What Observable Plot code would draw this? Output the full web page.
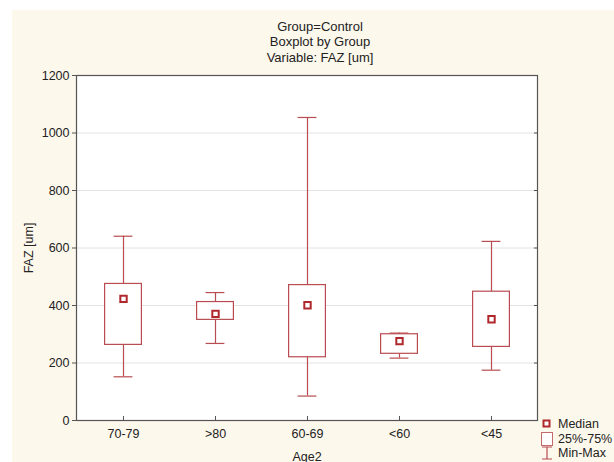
<!DOCTYPE html>
<html><head><meta charset="utf-8">
<script src="https://cdn.jsdelivr.net/npm/d3@7"></script>
<script src="https://cdn.jsdelivr.net/npm/@observablehq/plot@0.6"></script>
<style>
body{margin:0;background:#fff;font-family:"Liberation Sans",Arial,sans-serif;}
#page{position:relative;width:614px;height:462px;overflow:hidden;background:#fff;}
#cream{position:absolute;left:12px;top:10px;width:602px;height:452px;background:#fdf8ec;}
.t{position:absolute;left:12px;width:616px;text-align:center;font-size:13px;line-height:15px;color:#222;}
#chart{position:absolute;left:0;top:60px;}
#legend{position:absolute;left:540px;top:417px;font-size:12.5px;color:#222;}
#legend div{height:14.5px;line-height:14.5px;display:flex;align-items:center;}
#legend svg{margin-right:4px;}
</style></head>
<body>
<div id="page">
<div id="cream"></div>
<div class="t" style="top:19px">Group=Control</div>
<div class="t" style="top:34px">Boxplot by Group</div>
<div class="t" style="top:50px">Variable: FAZ [um]</div>
<div id="chart"></div>
<div id="legend">
<div><svg width="14" height="12"><rect x="3.5" y="2.5" width="6" height="6" fill="#fff" stroke="#b0282c" stroke-width="2"/></svg>Median</div>
<div><svg width="14" height="14"><rect x="1.5" y="0.5" width="11" height="13" fill="#fff" stroke="#c46b6e" stroke-width="1"/></svg>25%-75%</div>
<div><svg width="14" height="14"><path d="M2,1H12M7,1V13M2,13H12" stroke="#b84c50" stroke-width="1.2" fill="none"/></svg>Min-Max</div>
</div>
</div>
<script>
const groups = ["70-79", ">80", "60-69", "<60", "<45"];
const minVals = [152, 268, 85, 217, 175];
const q1Vals = [263, 350, 220, 232, 256];
const medianVals = [423, 371, 401, 276, 352];
const q3Vals = [475, 412, 471, 300, 448];
const maxVals = [641, 445, 1054, 304, 623];
const yTicks = [0, 200, 400, 600, 800, 1000, 1200];

const data = groups.map((g, i) => ({
  g, min: minVals[i], q1: q1Vals[i], med: medianVals[i], q3: q3Vals[i], max: maxVals[i]
}));

const boxStroke = "#b84c50";
const capInset = 36.6;
const boxInset = 27.6;

const chart = Plot.plot({
  width: 614,
  height: 402,
  marginTop: 15,
  marginBottom: 42,
  marginLeft: 76,
  marginRight: 77,
  style: {background: "transparent", fontFamily: "Liberation Sans, Arial, sans-serif", fontSize: "12.5px", color: "#222"},
  x: {type: "band", domain: groups, padding: 0},
  y: {domain: [0, 1200]},
  marks: [
    Plot.frame({fill: "white", stroke: null}),
    Plot.ruleY(yTicks.slice(1, -1), {stroke: "#e2e2e2", strokeWidth: 1}),
    Plot.ruleX(data, {x: "g", y1: "min", y2: "max", stroke: boxStroke, strokeWidth: 1.2}),
    Plot.tickY(data, {x: "g", y: "min", stroke: boxStroke, strokeWidth: 1.2, insetLeft: capInset, insetRight: capInset}),
    Plot.tickY(data, {x: "g", y: "max", stroke: boxStroke, strokeWidth: 1.2, insetLeft: capInset, insetRight: capInset}),
    Plot.barY(data, {x: "g", y1: "q1", y2: "q3", fill: "white", stroke: boxStroke, strokeWidth: 1.2, insetLeft: boxInset, insetRight: boxInset}),
    Plot.dot(data, {x: "g", y: "med", symbol: "square", r: 3.6, fill: "white", stroke: "#b0282c", strokeWidth: 2}),
    Plot.frame({stroke: "#555", strokeWidth: 1.2}),
    Plot.axisX({tickSize: -4, tickPadding: 13, stroke: "#555", label: "Age2", labelAnchor: "center", labelOffset: 40, labelArrow: "none"}),
    Plot.axisY({ticks: yTicks, tickSize: 4, tickPadding: 3, tickFormat: d => String(d), stroke: "#555", label: "FAZ [um]", labelAnchor: "center", labelOffset: 52, labelArrow: "none"}),
    Plot.axisY({anchor: "right", ticks: yTicks, tickSize: -4, tickFormat: () => "", label: null, stroke: "#555"})
  ]
});
document.getElementById("chart").appendChild(chart);
</script>
</body></html>
